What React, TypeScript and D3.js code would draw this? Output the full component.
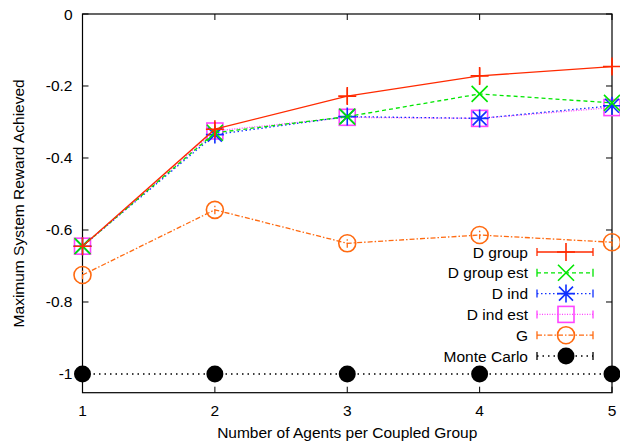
import React from 'react';
import * as d3 from 'd3';

const groupSizes = [1, 2, 3, 4, 5];
const dGroup = [-0.645, -0.32, -0.228, -0.172, -0.146];
const dGroupErr = [0.01, 0.02, 0.022, 0.022, 0.02];
const dGroupEst = [-0.645, -0.33, -0.285, -0.222, -0.247];
const dInd = [-0.645, -0.335, -0.285, -0.29, -0.255];
const dIndEst = [-0.645, -0.325, -0.287, -0.29, -0.26];
const gVals = [-0.725, -0.544, -0.637, -0.614, -0.634];
const gErr = [0.012, 0.012, 0.012, 0.012, 0.012];
const monteCarlo = [-1, -1, -1, -1, -1];
const yTicks = [0, -0.2, -0.4, -0.6, -0.8, -1];

type Series = {
  name: string;
  values: number[];
  errs?: number[];
  color: string;
  dash: string;
  marker: string;
};

const series: Series[] = [
  { name: 'D group', values: dGroup, errs: dGroupErr, color: '#ff2a00', dash: '', marker: 'plus' },
  { name: 'D group est', values: dGroupEst, color: '#00e600', dash: '4,3', marker: 'cross' },
  { name: 'D ind', values: dInd, color: '#1030ff', dash: '1.5,2.5', marker: 'star' },
  { name: 'D ind est', values: dIndEst, color: '#ff44ff', dash: '1,1.5', marker: 'square' },
  { name: 'G', values: gVals, errs: gErr, color: '#ff6a10', dash: '5,2,1.5,2', marker: 'circle' },
  { name: 'Monte Carlo', values: monteCarlo, color: '#000000', dash: '1.5,4', marker: 'dot' },
];

const left = 82.5;
const right = 612;
const top = 14;
const bottom = 392.7;

const x = d3.scaleLinear().domain([1, 5]).range([left, right]);
const y = d3.scaleLinear().domain([-1.052, 0]).range([bottom, top]);

function Marker({ kind, cx, cy, color }: { kind: string; cx: number; cy: number; color: string }) {
  const s = 9;
  if (kind === 'plus') {
    return <path d={`M${cx - s},${cy}H${cx + s}M${cx},${cy - s}V${cy + s}`} stroke={color} strokeWidth={1.6} fill="none" />;
  }
  if (kind === 'cross') {
    const c = 8;
    return <path d={`M${cx - c},${cy - c}L${cx + c},${cy + c}M${cx - c},${cy + c}L${cx + c},${cy - c}`} stroke={color} strokeWidth={1.6} fill="none" />;
  }
  if (kind === 'star') {
    const c = 7;
    return (
      <path
        d={`M${cx - s},${cy}H${cx + s}M${cx},${cy - s}V${cy + s}M${cx - c},${cy - c}L${cx + c},${cy + c}M${cx - c},${cy + c}L${cx + c},${cy - c}`}
        stroke={color}
        strokeWidth={1.6}
        fill="none"
      />
    );
  }
  if (kind === 'square') {
    return <rect x={cx - 8} y={cy - 8} width={16} height={16} stroke={color} strokeWidth={1.6} fill="none" />;
  }
  if (kind === 'circle') {
    return <circle cx={cx} cy={cy} r={8.5} stroke={color} strokeWidth={1.6} fill="none" />;
  }
  return <circle cx={cx} cy={cy} r={8.5} fill={color} />;
}

export default function App() {
  const line = d3
    .line<number>()
    .x((_, i) => x(groupSizes[i]))
    .y((d) => y(d));

  const font = '"Liberation Sans", Arial, sans-serif';
  const fs = 15.5;
  const legendTextX = 528;
  const legendX0 = 537;
  const legendX1 = 593;
  const legendY0 = 252;
  const legendStep = 20.8;

  return (
    <svg width={620} height={443} style={{ position: 'absolute', left: 0, top: 0 }} fontFamily={font}>
      <rect width={620} height={443} fill="#fff" />
      {/* frame */}
      <rect x={left} y={top} width={right - left} height={bottom - top} fill="none" stroke="#000" strokeWidth={1.2} />
      {groupSizes.map((g) => (
        <g key={'xt' + g}>
          <line x1={x(g)} x2={x(g)} y1={bottom} y2={bottom - 6} stroke="#000" />
          <line x1={x(g)} x2={x(g)} y1={top} y2={top + 6} stroke="#000" />
          <text x={x(g)} y={bottom + 23.5} textAnchor="middle" fontSize={fs}>
            {g}
          </text>
        </g>
      ))}
      {yTicks.map((t) => (
        <g key={'yt' + t}>
          <line x1={left} x2={left + 6} y1={y(t)} y2={y(t)} stroke="#000" />
          <line x1={right} x2={right - 6} y1={y(t)} y2={y(t)} stroke="#000" />
          <text x={left - 10} y={y(t) + 5.5} textAnchor="end" fontSize={fs}>
            {t === 0 ? '0' : t === -1 ? '-1' : String(t)}
          </text>
        </g>
      ))}
      <text x={(left + right) / 2} y={437.5} textAnchor="middle" fontSize={fs}>
        Number of Agents per Coupled Group
      </text>
      <text transform={`translate(24,${(top + bottom) / 2}) rotate(-90)`} textAnchor="middle" fontSize={fs}>
        Maximum System Reward Achieved
      </text>

      {/* series, drawn bottom to top */}
      {series
        .slice()
        .reverse()
        .map((s) => (
          <g key={s.name}>
            <path d={line(s.values) || ''} fill="none" stroke={s.color} strokeWidth={1.3} strokeDasharray={s.dash || undefined} />
            {s.errs &&
              s.values.map((v, i) => (
                <path
                  key={'e' + i}
                  d={`M${x(groupSizes[i])},${y(v - s.errs![i])}V${y(v + s.errs![i])}`}
                  stroke={s.color}
                  strokeWidth={1.3}
                  strokeDasharray={s.dash || undefined}
                />
              ))}
            {s.values.map((v, i) => (
              <Marker key={i} kind={s.marker} cx={x(groupSizes[i])} cy={y(v)} color={s.color} />
            ))}
          </g>
        ))}

      {/* legend */}
      {series.map((s, i) => {
        const ly = legendY0 + i * legendStep;
        return (
          <g key={'lg' + s.name}>
            <text x={legendTextX} y={ly + 5.5} textAnchor="end" fontSize={fs}>
              {s.name}
            </text>
            <path
              d={`M${legendX0},${ly}H${legendX1}`}
              stroke={s.color}
              strokeWidth={1.3}
              strokeDasharray={s.dash || undefined}
            />
            <path d={`M${legendX0},${ly - 4}V${ly + 4}M${legendX1},${ly - 4}V${ly + 4}`} stroke={s.color} strokeWidth={1.3} />
            <Marker kind={s.marker} cx={(legendX0 + legendX1) / 2 + 1} cy={ly} color={s.color} />
          </g>
        );
      })}
    </svg>
  );
}
